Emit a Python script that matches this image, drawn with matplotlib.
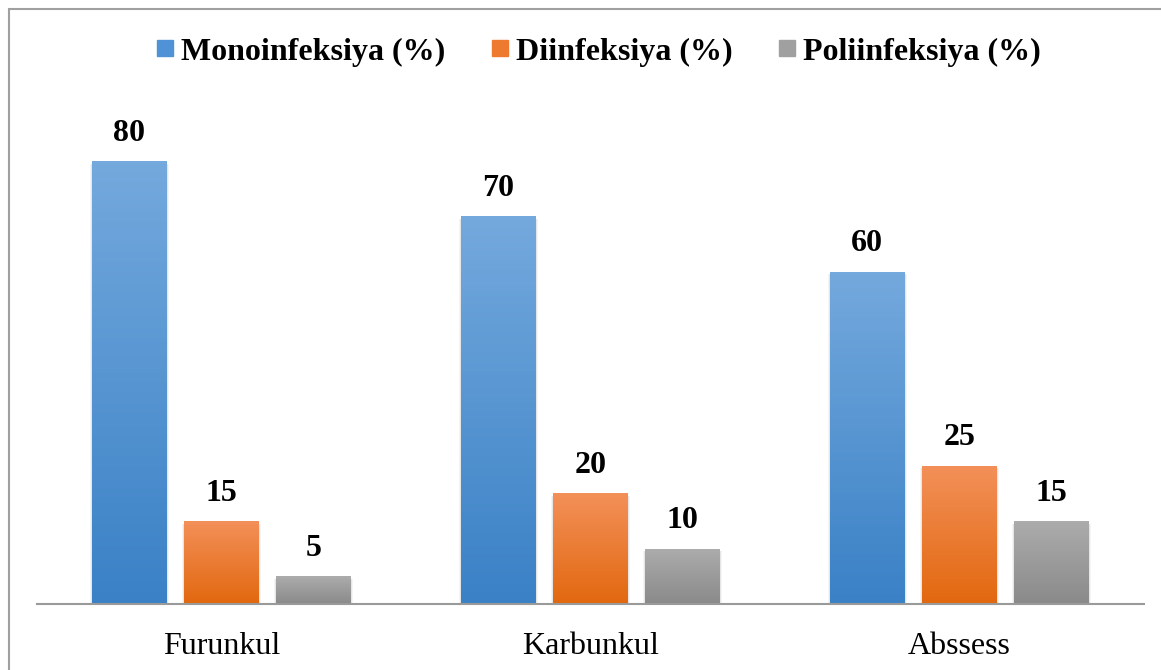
import numpy as np
import matplotlib
matplotlib.use("Agg")
import matplotlib.pyplot as plt
from matplotlib.patches import Rectangle
from matplotlib.lines import Line2D

categories = ["Furunkul", "Karbunkul", "Abssess"]
series_names = ["Monoinfeksiya (%)", "Diinfeksiya (%)", "Poliinfeksiya (%)"]
mono = [80, 70, 60]
di = [15, 20, 25]
poli = [5, 10, 15]

values = [mono, di, poli]
top_colors = ["#74a9dd", "#f39059", "#acacac"]
bottom_colors = ["#3a81c6", "#e2680f", "#8a8a8a"]
legend_colors = ["#4f93d6", "#ee7a30", "#a0a0a0"]

plt.rcParams["font.family"] = ["Liberation Serif", "DejaVu Serif"]

fig = plt.figure(figsize=(11.61, 6.70), dpi=100)
ax = fig.add_axes([37 / 1161, 66 / 670, 1107 / 1161, 0.744])

# frame round the whole chart
fig.patches.append(Rectangle((9 / 1161, -0.05), 1.2, (661 / 670) + 0.05,
                             transform=fig.transFigure, fill=False,
                             edgecolor="#a0a0a0", linewidth=1.5))

x = np.arange(len(categories))
width = 0.203
step = 0.25


def hex2rgb(h):
    return np.array(matplotlib.colors.to_rgb(h))


for i, vals in enumerate(values):
    xs = x + (i - 1) * step
    c_top = hex2rgb(top_colors[i])
    c_bot = hex2rgb(bottom_colors[i])
    for xc, v in zip(xs, vals):
        # soft shadow
        for k, a in [(0.012, 0.04), (0.007, 0.06)]:
            ax.bar(xc, v + 0.4, bottom=-0.9, width=width + k, color="#000000",
                   alpha=a, zorder=1, linewidth=0)
        bars = ax.bar(xc, v, width=width, color="none", zorder=2)
        t = np.linspace(0, 1, 100)[:, None]
        grad = c_top[None, :] * (1 - t) + c_bot[None, :] * t
        grad = grad[:, None, :]
        im = ax.imshow(grad, extent=[xc - width / 2, xc + width / 2, 0, v],
                       aspect="auto", origin="upper", zorder=2)
        im.set_clip_path(bars[0])
        ax.text(xc, v + 5.0, str(v), ha="center", va="center",
                fontsize=23, fontweight="bold", color="black")

ax.set_xlim(-0.5, 2.5)
ax.set_ylim(0, 90)
ax.set_xticks(x)
ax.set_xticklabels(categories, fontsize=23)
ax.tick_params(axis="x", length=0, pad=20)
ax.set_yticks([])
for s in ["top", "right", "left"]:
    ax.spines[s].set_visible(False)
ax.spines["bottom"].set_color("#9a9a9a")
ax.spines["bottom"].set_linewidth(1.5)
ax.spines["bottom"].set_zorder(3)

handles = [Line2D([], [], marker="s", linestyle="none", markersize=11,
                  markerfacecolor=c, markeredgecolor=c) for c in legend_colors]
fig.legend(handles, series_names, loc="center", bbox_to_anchor=(595 / 1161, 1 - 52 / 670),
           ncol=3, frameon=False, prop={"size": 23, "weight": "bold"},
           handletextpad=0.0, columnspacing=1.2, handlelength=1.0)

fig.savefig("out.png", dpi=100)
